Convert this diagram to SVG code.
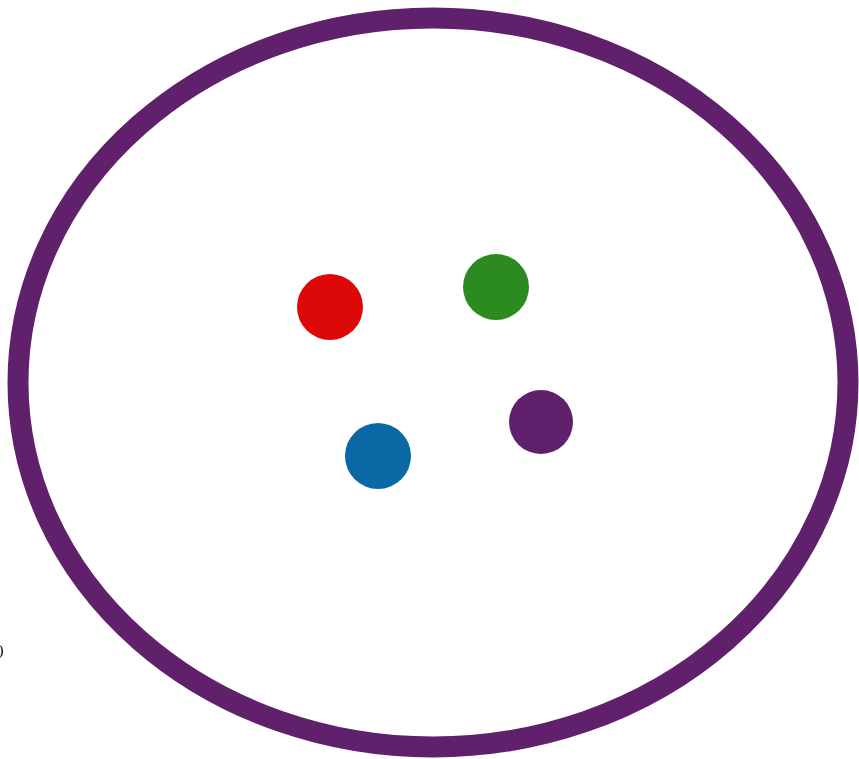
<svg xmlns="http://www.w3.org/2000/svg" width="859" height="759" viewBox="0 0 859 759">
<style>
.dot{stroke:none}
.lbl{font-family:"Liberation Serif",serif;font-size:15px;fill:#000}
</style>
<rect width="859" height="759" fill="#fff"/>
<g id="boundary">
<ellipse cx="433" cy="382.5" rx="415" ry="364.5" fill="none" stroke="#61206c" stroke-width="21"/>
</g>
<g id="red"><circle class="dot" cx="330" cy="307" r="33" fill="#dd0909"/></g>
<g id="green"><circle class="dot" cx="496" cy="287" r="33" fill="#2b8a20"/></g>
<g id="blue"><circle class="dot" cx="378" cy="456" r="33" fill="#0a69a5"/></g>
<g id="purple"><circle class="dot" cx="541" cy="422" r="32" fill="#61206c"/></g>
<g id="connectors"></g>
<text class="lbl" x="-1.5" y="655">)</text>
</svg>
